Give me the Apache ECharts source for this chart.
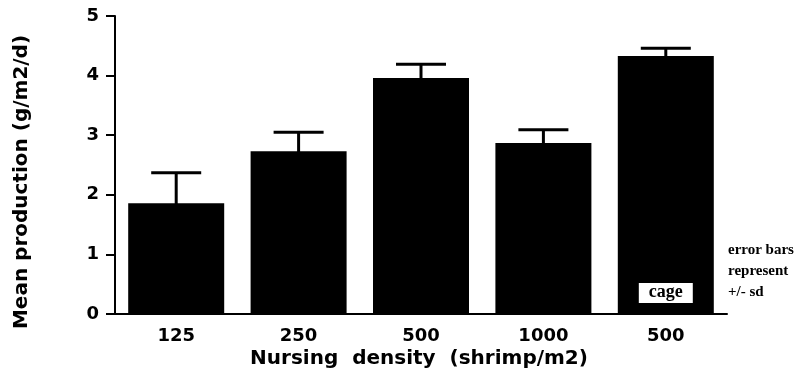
<!DOCTYPE html>
<html>
<head>
<meta charset="utf-8">
<script src="https://cdn.jsdelivr.net/npm/echarts@6/dist/echarts.min.js"></script>
<style>
html,body{margin:0;padding:0;background:#fff;}
#chart{width:803px;height:370px;}
</style>
</head>
<body>
<div id="chart"></div>
<script>
var categories = ["125", "250", "500", "1000", "500"];
var meanProduction = [1.86, 2.73, 3.96, 2.87, 4.33];
var sdValues = [0.51, 0.32, 0.23, 0.22, 0.13];
var barNotes = ["", "", "", "", "cage"];
var yTicks = [0, 1, 2, 3, 4, 5];
var yTitle = "Mean production (g/m2/d)";
var xTitle = "Nursing  density  (shrimp/m2)";
var noteLines = ["error bars", "represent", "+/- sd"];

var sansBold = "DejaVu Sans";
var serif = "Liberation Serif";

var barData = meanProduction.map(function (v, i) {
  var item = { value: v };
  if (barNotes[i]) {
    item.label = {
      show: true,
      position: "insideBottom",
      distance: 11,
      formatter: barNotes[i],
      backgroundColor: "#fff",
      color: "#000",
      fontFamily: serif,
      fontWeight: "bold",
      fontSize: 18,
      lineHeight: 17,
      padding: [1, 10, 2, 10]
    };
  }
  return item;
});

var errData = meanProduction.map(function (v, i) {
  return [i, v - sdValues[i], v + sdValues[i]];
});

var chart = echarts.init(document.getElementById("chart"), null, { renderer: "canvas" });
chart.setOption({
  backgroundColor: "#fff",
  animation: false,
  grid: { left: 115, right: 76, top: 16, bottom: 56 },
  xAxis: {
    type: "category",
    data: categories,
    axisLine: { lineStyle: { color: "#000", width: 2 } },
    axisTick: { alignWithLabel: true, length: 6, lineStyle: { color: "#000", width: 2 } },
    axisLabel: { color: "#000", fontFamily: sansBold, fontWeight: "bold", fontSize: 18, margin: 13 },
    splitLine: { show: false }
  },
  yAxis: {
    type: "value",
    min: yTicks[0],
    max: yTicks[yTicks.length - 1],
    interval: 1,
    axisLine: { show: true, lineStyle: { color: "#000", width: 2 } },
    axisTick: { show: true, length: 9, lineStyle: { color: "#000", width: 2 } },
    axisLabel: { color: "#000", fontFamily: sansBold, fontWeight: "bold", fontSize: 18, margin: 16 },
    splitLine: { show: false }
  },
  series: [
    {
      type: "bar",
      data: barData,
      barWidth: 96,
      itemStyle: { color: "#000" },
      z: 2
    },
    {
      type: "custom",
      data: errData,
      z: 3,
      renderItem: function (params, api) {
        var x = api.value(0);
        var lo = api.coord([x, api.value(1)]);
        var hi = api.coord([x, api.value(2)]);
        var half = 25;
        return {
          type: "group",
          children: [
            { type: "line", shape: { x1: lo[0], y1: lo[1], x2: hi[0], y2: hi[1] }, style: { stroke: "#000", lineWidth: 3 } },
            { type: "line", shape: { x1: hi[0] - half, y1: hi[1], x2: hi[0] + half, y2: hi[1] }, style: { stroke: "#000", lineWidth: 3 } }
          ]
        };
      }
    }
  ],
  graphic: [
    {
      type: "text",
      x: 22, y: 182,
      rotation: Math.PI / 2,
      style: { text: yTitle, fill: "#000", font: "bold 20px '" + sansBold + "'", align: "center", verticalAlign: "middle" }
    },
    {
      type: "text",
      x: 419, y: 359,
      style: { text: xTitle, fill: "#000", font: "bold 20px '" + sansBold + "'", align: "center", verticalAlign: "middle" }
    },
    {
      type: "text",
      x: 728, y: 250,
      style: { text: noteLines[0], fill: "#000", font: "bold 15px '" + serif + "'", align: "left", verticalAlign: "middle" }
    },
    {
      type: "text",
      x: 728, y: 271,
      style: { text: noteLines[1], fill: "#000", font: "bold 15px '" + serif + "'", align: "left", verticalAlign: "middle" }
    },
    {
      type: "text",
      x: 728, y: 292,
      style: { text: noteLines[2], fill: "#000", font: "bold 15px '" + serif + "'", align: "left", verticalAlign: "middle" }
    }
  ]
});
</script>
</body>
</html>
